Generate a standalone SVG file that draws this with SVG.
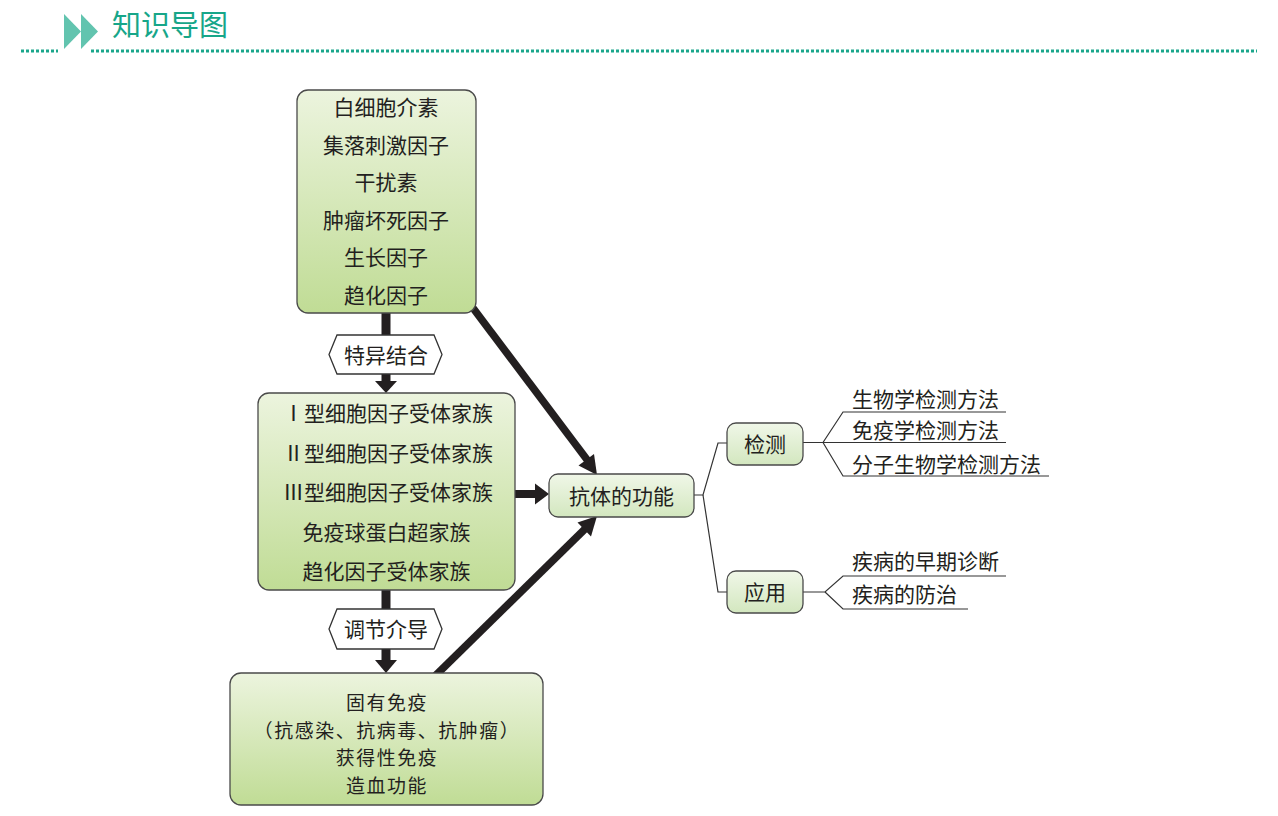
<svg xmlns="http://www.w3.org/2000/svg" width="1278" height="816" viewBox="0 0 1278 816">
<defs>
<linearGradient id="gBig" x1="0" y1="0" x2="0" y2="1">
<stop offset="0" stop-color="#ecf4de"/>
<stop offset="1" stop-color="#c0dc95"/>
</linearGradient>
<linearGradient id="gSmall" x1="0" y1="0" x2="0" y2="1">
<stop offset="0" stop-color="#f0f7e8"/>
<stop offset="1" stop-color="#d3e7bf"/>
</linearGradient>
<style>
text{font-family:"Noto Sans CJK SC","Noto Sans",sans-serif;font-size:21px;fill:#231f20;}
.c{text-anchor:middle;}
.b19{font-size:18.9px;letter-spacing:1.6px;}
.big{fill:url(#gBig);stroke:#4a4a4a;stroke-width:1.3;}
.small{fill:url(#gSmall);stroke:#4a4a4a;stroke-width:1.3;}
.hex{fill:#ffffff;stroke:#333333;stroke-width:1.3;}
.thick{stroke:#231f20;stroke-linecap:butt;fill:none;}
.head{fill:#231f20;}
.thin{stroke:#333333;stroke-width:1.2;fill:none;}
.title{font-size:29px;fill:#17a689;}
.dots{stroke:#1aa68b;stroke-width:3;stroke-dasharray:3 2;}
</style>
</defs>
<rect width="1278" height="816" fill="#ffffff"/>

<g id="header">
<polygon points="64,14 64,49 81,31.5" fill="#62c4af"/>
<polygon points="81,14 81,49 98,31.5" fill="#62c4af"/>
<text class="title" x="112" y="36">知识导图</text>
<line class="dots" x1="21" y1="51" x2="58" y2="51"/>
<line class="dots" x1="91" y1="51" x2="1257" y2="51"/>
</g>

<g id="connectors">
<line class="thick" x1="386" y1="313" x2="386" y2="336" stroke-width="9"/>
<line class="thick" x1="386" y1="373" x2="386" y2="382" stroke-width="9"/>
<polygon class="head" points="375,381 397,381 386,393"/>
<line class="thick" x1="386" y1="589" x2="386" y2="610" stroke-width="9"/>
<line class="thick" x1="386" y1="648" x2="386" y2="661" stroke-width="9"/>
<polygon class="head" points="375,660 397,660 386,673"/>
<line class="thick" x1="515" y1="494" x2="537" y2="494" stroke-width="8"/>
<polygon class="head" points="535,483.5 535,504.5 549,494"/>
<line class="thick" x1="470" y1="304" x2="588" y2="461" stroke-width="7.5"/>
<polygon class="head" points="578.5,465.5 594,454 597,475"/>
<line class="thick" x1="432" y1="679" x2="586" y2="528" stroke-width="7.5"/>
<polygon class="head" points="591,536.5 577.5,522.5 597,516"/>
<polyline class="thin" points="694,495 703,495 718,443 727,443"/>
<polyline class="thin" points="703,495 718,592 727,592"/>
<polyline class="thin" points="803,442.5 823,442.5 843,412 1006,412"/>
<polyline class="thin" points="823,442.5 1006,442.5"/>
<polyline class="thin" points="823,442.5 843,476 1049,476"/>
<polyline class="thin" points="803,592 825,592 843,576 1006,576"/>
<polyline class="thin" points="825,592 843,609 968,609"/>
</g>

<g id="node-cytokines">
<rect class="big" x="297" y="90" width="179" height="223" rx="11"/>
<text class="c" x="386" y="115">白细胞介素</text>
<text class="c" x="386" y="152.5">集落刺激因子</text>
<text class="c" x="386" y="190">干扰素</text>
<text class="c" x="386" y="227.5">肿瘤坏死因子</text>
<text class="c" x="386" y="265">生长因子</text>
<text class="c" x="386" y="302.5">趋化因子</text>
</g>

<g id="node-binding">
<polygon class="hex" points="337,335 434,335 442,354.5 434,374 337,374 329,354.5"/>
<text class="c" x="386" y="362.5">特异结合</text>
</g>

<g id="node-receptors">
<rect class="big" x="258" y="393" width="257" height="197" rx="11"/>
<text class="c" x="388" y="421">Ⅰ型细胞因子受体家族</text>
<text class="c" x="388" y="460.5">Ⅱ型细胞因子受体家族</text>
<text class="c" x="388" y="500">Ⅲ型细胞因子受体家族</text>
<text class="c" x="386.5" y="539.5">免疫球蛋白超家族</text>
<text class="c" x="386.5" y="579">趋化因子受体家族</text>
</g>

<g id="node-mediate">
<polygon class="hex" points="337,609 434,609 442,629 434,649 337,649 329,629"/>
<text class="c" x="386" y="637">调节介导</text>
</g>

<g id="node-immunity">
<rect class="big" x="230" y="673" width="313" height="132" rx="11"/>
<text class="c b19" x="387" y="710">固有免疫</text>
<text class="c b19" x="387" y="737.6">（抗感染、抗病毒、抗肿瘤）</text>
<text class="c b19" x="387" y="765.2">获得性免疫</text>
<text class="c b19" x="387" y="792.8">造血功能</text>
</g>

<g id="node-function">
<rect class="small" x="549" y="474" width="145" height="43" rx="9"/>
<text class="c" x="621.5" y="503.5">抗体的功能</text>
</g>

<g id="node-detect">
<rect class="small" x="727" y="423" width="76" height="42" rx="9"/>
<text class="c" x="765" y="451.5">检测</text>
</g>

<g id="node-apply">
<rect class="small" x="727" y="571" width="76" height="42" rx="9"/>
<text class="c" x="765" y="600">应用</text>
</g>

<g id="leaf-detect">
<text x="852" y="406.5">生物学检测方法</text>
<text x="852" y="438">免疫学检测方法</text>
<text x="852" y="472">分子生物学检测方法</text>
</g>

<g id="leaf-apply">
<text x="852" y="569">疾病的早期诊断</text>
<text x="852" y="602">疾病的防治</text>
</g>
</svg>
